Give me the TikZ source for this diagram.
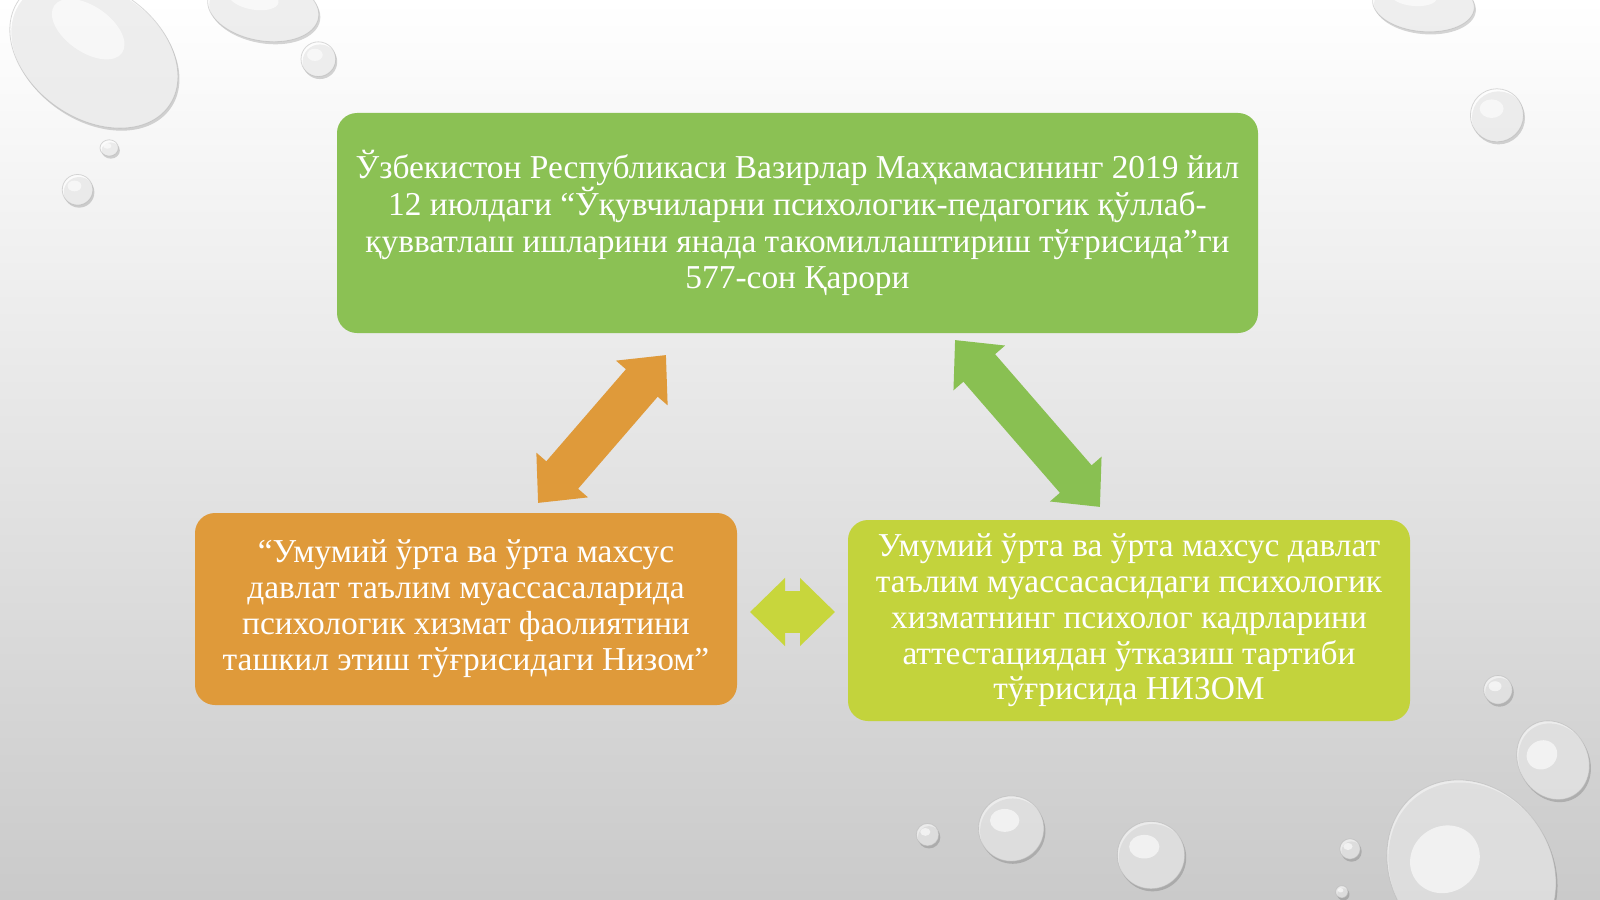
\documentclass[tikz,border=0pt]{standalone}
\usepackage{fontspec}
\setmainfont{Liberation Serif}
\usetikzlibrary{arrows.meta}
\definecolor{gtop}{RGB}{139,193,84}
\definecolor{orng}{RGB}{223,154,58}
\definecolor{lime}{RGB}{195,211,60}
\definecolor{garrow}{RGB}{137,192,82}
\definecolor{limearrow}{RGB}{200,214,60}
\definecolor{bgmid}{RGB}{236,236,236}
\definecolor{bgbot}{RGB}{202,202,202}
\newcommand\waterdrop[5]{%
  \fill[black, opacity=0.16, rotate around={#5:(#1+1.5,#2+2.5)}] (#1+1.5,#2+2.5) ellipse [x radius=#3, y radius=#4];
  \fill[white, opacity=0.6, rotate around={#5:(#1,#2)}] (#1,#2) ellipse [x radius=#3, y radius=#4];
  \draw[black!30, line width=0.4pt, opacity=0.5, rotate around={#5:(#1,#2)}] (#1,#2) ellipse [x radius=#3, y radius=#4];
  \fill[white, opacity=0.6, rotate around={#5:(#1,#2)}] (#1-0.2*#3,#2-0.25*#4) ellipse [x radius=0.45*#3, y radius=0.35*#4];
}
\tikzset{
  box/.style={rounded corners=10pt, text=white, align=center, inner sep=0pt},
  bigarrow/.style={line width=21pt,
    {Triangle[length=18.5pt,width=33pt]}-{Triangle[length=18.5pt,width=33pt]}},
  smallarrow/.style={line width=21pt,
    {Triangle[length=17.5pt,width=33pt]}-{Triangle[length=17.5pt,width=33pt]}}
}
\begin{document}
\begin{tikzpicture}[x=0.5pt,y=-0.5pt]
\useasboundingbox (0,0) rectangle (1600,899);
\shade[top color=white, middle color=bgmid, bottom color=bgbot] (0,0) rectangle (1600,899);
% water drops
\begin{scope}
\clip (0,0) rectangle (1600,899);
\begin{scope}[scale=1.0204]
\waterdrop{92}{52}{90}{64}{-35}
\waterdrop{258}{8}{55}{32}{-10}
\waterdrop{312}{58}{17}{17}{0}
\waterdrop{107}{145}{9}{8}{0}
\waterdrop{76}{186}{15}{15}{0}
\waterdrop{1395}{4}{50}{27}{-5}
\waterdrop{1467}{113}{26}{26}{0}
\waterdrop{1468}{676}{14}{14}{0}
\waterdrop{1522}{745}{34}{40}{30}
\waterdrop{909}{818}{11}{11}{0}
\waterdrop{991}{812}{32}{32}{0}
\waterdrop{1128}{838}{33}{33}{0}
\waterdrop{1323}{832}{10}{10}{0}
\waterdrop{1315}{874}{6}{6}{0}
\waterdrop{1442}{852}{78}{92}{35}
\end{scope}
\end{scope}
% boxes
\node[box, fill=gtop, minimum width=460.5pt, minimum height=110pt,
  font=\fontsize{16.7}{18.4}\selectfont] (top) at (797.5,223)
  {Ўзбекистон Республикаси Вазирлар Маҳкамасининг 2019 йил\\
   12 июлдаги “Ўқувчиларни психологик-педагогик қўллаб-\\
   қувватлаш ишларини янада такомиллаштириш тўғрисида”ги\\
   577-сон Қарори};
\node[box, fill=orng, minimum width=271pt, minimum height=96pt, text depth=4pt,
  font=\fontsize{16.7}{17.9}\selectfont] (left) at (466,609)
  {“Умумий ўрта ва ўрта махсус\\
   давлат таълим муассасаларида\\
   психологик хизмат фаолиятини\\
   ташкил этиш тўғрисидаги Низом”};
\node[box, fill=lime, minimum width=281pt, minimum height=100.5pt,
  font=\fontsize{16.7}{17.9}\selectfont] (right) at (1129,620.5)
  {Умумий ўрта ва ўрта махсус давлат\\
   таълим муассасасидаги психологик\\
   хизматнинг психолог кадрларини\\
   аттестациядан ўтказиш тартиби\\
   тўғрисида НИЗОМ};
% arrow end points
\coordinate (o1) at (538,503);
\coordinate (o2) at (666,355);
\coordinate (g1) at (955,340);
\coordinate (g2) at (1100,507);
\coordinate (s1) at (750,612);
\coordinate (s2) at (835,612);
\draw[bigarrow, draw=orng] (o1) -- (o2);
\draw[bigarrow, draw=garrow] (g1) -- (g2);
\draw[smallarrow, draw=limearrow] (s1) -- (s2);
\end{tikzpicture}
\end{document}
